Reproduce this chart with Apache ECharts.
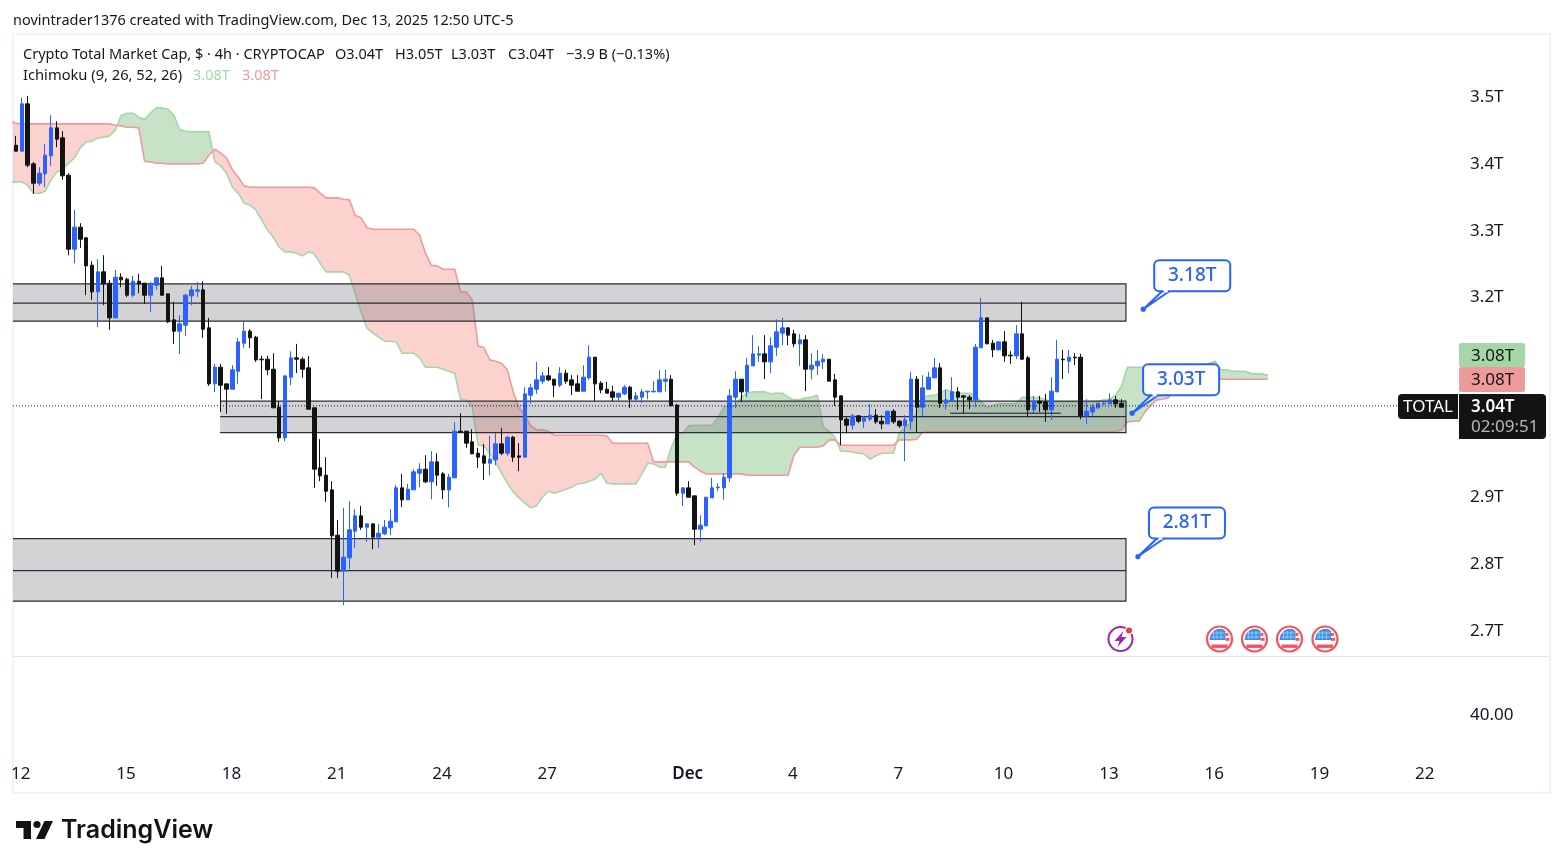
<!DOCTYPE html>
<html>
<head>
<meta charset="utf-8">
<title>TOTAL 4h</title>
<script src="https://cdn.jsdelivr.net/npm/echarts@6/dist/echarts.min.js"></script>
<style>
  html, body { margin: 0; padding: 0; background: #fff; }
  #chart { width: 1563px; height: 868px; }
</style>
</head>
<body>
<div id="chart"></div>
<script>
// 4h bars in trillions: open, close, low, high
const candles = [
  [3.427,3.418,3.418,3.441],[3.418,3.489,3.418,3.498],[3.489,3.397,3.394,3.501],[3.399,3.370,3.354,3.402],
  [3.370,3.385,3.366,3.394],[3.384,3.412,3.364,3.429],[3.411,3.453,3.396,3.472],[3.453,3.436,3.424,3.463],
  [3.438,3.381,3.375,3.448],[3.382,3.271,3.262,3.385],[3.271,3.304,3.250,3.330],[3.304,3.286,3.273,3.310],
  [3.288,3.246,3.202,3.289],[3.247,3.207,3.195,3.253],[3.207,3.237,3.154,3.256],[3.237,3.219,3.187,3.262],
  [3.220,3.168,3.150,3.225],[3.168,3.229,3.168,3.240],[3.229,3.225,3.214,3.235],[3.226,3.202,3.199,3.228],
  [3.202,3.223,3.199,3.231],[3.223,3.219,3.205,3.234],[3.220,3.202,3.189,3.220],[3.202,3.219,3.177,3.222],
  [3.217,3.228,3.210,3.229],[3.228,3.202,3.201,3.246],[3.204,3.162,3.160,3.204],[3.165,3.148,3.129,3.192],
  [3.148,3.159,3.114,3.172],[3.157,3.202,3.141,3.204],[3.201,3.210,3.187,3.216],[3.208,3.210,3.199,3.222],
  [3.210,3.151,3.138,3.223],[3.153,3.069,3.066,3.168],[3.069,3.094,3.057,3.099],[3.094,3.067,3.027,3.099],
  [3.069,3.061,3.024,3.069],[3.061,3.090,3.061,3.097],[3.088,3.132,3.069,3.138],[3.130,3.148,3.123,3.165],
  [3.148,3.138,3.123,3.151],[3.139,3.105,3.102,3.141],[3.106,3.105,3.046,3.111],[3.106,3.090,3.082,3.111],
  [3.091,3.033,3.033,3.115],[3.034,2.988,2.982,3.043],[2.988,3.081,2.983,3.081],[3.079,3.108,3.067,3.118],
  [3.108,3.106,3.085,3.129],[3.106,3.091,3.078,3.109],[3.093,3.031,3.031,3.111],[3.033,2.941,2.913,3.034],
  [2.943,2.931,2.923,2.986],[2.932,2.908,2.892,2.959],[2.910,2.841,2.778,2.923],[2.842,2.788,2.778,2.865],
  [2.788,2.809,2.737,2.883],[2.808,2.850,2.791,2.893],[2.848,2.871,2.823,2.881],[2.871,2.854,2.850,2.886],
  [2.854,2.859,2.832,2.859],[2.859,2.839,2.821,2.859],[2.839,2.845,2.823,2.859],[2.844,2.854,2.842,2.865],
  [2.853,2.863,2.842,2.881],[2.862,2.913,2.862,2.917],[2.913,2.895,2.884,2.934],[2.895,2.911,2.895,2.919],
  [2.910,2.937,2.910,2.941],[2.935,2.941,2.914,2.950],[2.941,2.922,2.920,2.962],[2.922,2.952,2.896,2.968],
  [2.952,2.932,2.916,2.965],[2.934,2.910,2.896,2.937],[2.910,2.929,2.884,2.934],[2.928,2.998,2.928,3.012],
  [2.998,2.997,2.997,3.025],[2.998,2.980,2.973,2.998],[2.982,2.964,2.964,3.001],[2.965,2.959,2.943,2.973],
  [2.961,2.950,2.925,2.979],[2.950,2.956,2.932,2.991],[2.955,2.979,2.947,2.995],[2.979,2.965,2.962,3.003],
  [2.965,2.989,2.961,2.991],[2.989,2.959,2.952,2.991],[2.961,2.959,2.938,2.980],[2.959,3.054,2.959,3.064],
  [3.052,3.063,3.039,3.069],[3.061,3.075,3.054,3.102],[3.073,3.081,3.069,3.087],[3.081,3.075,3.073,3.094],
  [3.076,3.067,3.049,3.076],[3.067,3.085,3.064,3.094],[3.085,3.073,3.069,3.090],[3.075,3.067,3.052,3.082],
  [3.069,3.058,3.058,3.082],[3.058,3.079,3.058,3.097],[3.078,3.109,3.075,3.127],[3.109,3.069,3.043,3.109],
  [3.070,3.060,3.055,3.073],[3.061,3.055,3.055,3.072],[3.057,3.049,3.043,3.066],[3.049,3.055,3.043,3.055],
  [3.054,3.064,3.052,3.067],[3.064,3.046,3.033,3.066],[3.046,3.051,3.042,3.057],[3.049,3.057,3.040,3.061],
  [3.057,3.058,3.046,3.058],[3.057,3.058,3.057,3.073],[3.057,3.075,3.057,3.090],[3.073,3.076,3.058,3.090],
  [3.076,3.036,3.036,3.082],[3.037,2.905,2.901,3.039],[2.905,2.913,2.886,2.914],[2.913,2.899,2.899,2.923],
  [2.901,2.851,2.827,2.901],[2.851,2.857,2.833,2.872],[2.856,2.899,2.856,2.899],[2.898,2.913,2.898,2.928],
  [2.913,2.914,2.908,2.920],[2.913,2.929,2.895,2.935],[2.928,3.051,2.922,3.061],[3.049,3.076,3.033,3.088],
  [3.076,3.057,3.042,3.076],[3.057,3.097,3.049,3.108],[3.096,3.114,3.096,3.142],[3.112,3.114,3.102,3.126],
  [3.114,3.102,3.076,3.142],[3.102,3.126,3.085,3.139],[3.124,3.147,3.111,3.166],[3.145,3.153,3.127,3.168],
  [3.153,3.142,3.127,3.154],[3.144,3.129,3.124,3.150],[3.129,3.135,3.096,3.144],[3.135,3.091,3.058,3.142],
  [3.091,3.097,3.076,3.115],[3.096,3.103,3.082,3.120],[3.102,3.106,3.091,3.114],[3.106,3.073,3.073,3.106],
  [3.075,3.049,3.036,3.084],[3.051,3.015,2.977,3.051],[3.016,3.007,2.995,3.019],[3.007,3.021,3.000,3.024],
  [3.021,3.013,3.010,3.022],[3.013,3.018,3.003,3.021],[3.016,3.022,3.013,3.039],[3.022,3.012,3.009,3.031],
  [3.013,3.009,3.001,3.022],[3.009,3.028,3.009,3.028],[3.028,3.012,3.009,3.031],[3.013,3.006,3.003,3.015],
  [3.006,3.015,2.953,3.022],[3.013,3.076,3.000,3.087],[3.076,3.034,2.997,3.081],[3.034,3.063,3.021,3.082],
  [3.061,3.079,3.061,3.087],[3.078,3.093,3.078,3.108],[3.093,3.040,3.033,3.100],[3.040,3.045,3.030,3.060],
  [3.043,3.057,3.043,3.079],[3.057,3.049,3.030,3.064],[3.051,3.049,3.025,3.052],[3.049,3.045,3.031,3.052],
  [3.045,3.124,3.034,3.129],[3.123,3.168,3.123,3.198],[3.168,3.129,3.129,3.168],[3.130,3.120,3.109,3.135],
  [3.120,3.132,3.120,3.132],[3.132,3.111,3.102,3.148],[3.112,3.111,3.099,3.118],[3.111,3.144,3.106,3.157],
  [3.144,3.106,3.105,3.192],[3.108,3.030,3.019,3.111],[3.030,3.043,3.025,3.051],[3.043,3.040,3.027,3.051],
  [3.042,3.030,3.012,3.054],[3.030,3.058,3.015,3.079],[3.057,3.106,3.057,3.135],[3.106,3.105,3.076,3.120],
  [3.103,3.109,3.085,3.120],[3.109,3.108,3.097,3.115],[3.109,3.021,3.016,3.114],[3.021,3.028,3.009,3.046],
  [3.027,3.034,3.021,3.039],[3.033,3.040,3.031,3.040],[3.039,3.040,3.037,3.043],[3.039,3.045,3.039,3.055],
  [3.045,3.039,3.033,3.051],[3.040,3.034,3.034,3.046]
];

// Ichimoku leading spans, one value per bar from bar -1 (runs 26 bars past the last candle)
const spanStart = -1;
const spanA = [
  3.372,
  3.372,3.372,3.367,3.355,3.355,3.358,3.375,3.387,3.391,3.400,
  3.408,3.423,3.432,3.433,3.438,3.439,3.441,3.450,3.472,3.475,
  3.475,3.469,3.466,3.475,3.483,3.483,3.481,3.472,3.450,3.448,
  3.447,3.447,3.447,3.447,3.402,3.396,3.385,3.364,3.355,3.340,
  3.337,3.330,3.315,3.300,3.289,3.274,3.267,3.267,3.265,3.261,
  3.267,3.264,3.250,3.237,3.237,3.237,3.237,3.232,3.205,3.177,
  3.153,3.145,3.139,3.133,3.133,3.132,3.115,3.115,3.115,3.108,
  3.094,3.094,3.094,3.091,3.088,3.085,3.046,3.045,3.034,2.977,
  2.976,2.965,2.952,2.935,2.920,2.907,2.898,2.890,2.883,2.886,
  2.899,2.908,2.905,2.908,2.911,2.914,2.919,2.920,2.923,2.926,
  2.935,2.920,2.919,2.919,2.919,2.919,2.919,2.934,2.950,2.949,
  2.944,2.944,2.973,2.992,2.995,3.006,3.007,3.007,3.007,3.007,
  3.018,3.034,3.036,3.036,3.049,3.055,3.057,3.057,3.057,3.054,
  3.055,3.055,3.049,3.045,3.045,3.048,3.049,3.052,3.004,2.998,
  2.989,2.968,2.968,2.967,2.965,2.964,2.956,2.961,2.965,2.965,
  2.965,2.995,3.004,3.010,3.025,3.048,3.051,3.052,3.055,3.060,
  3.057,3.055,3.055,3.055,3.052,3.042,3.033,3.036,3.039,3.039,
  3.039,3.040,3.049,3.049,3.049,3.048,3.045,3.043,3.042,3.042,
  3.042,3.042,3.042,3.042,3.042,3.043,3.045,3.046,3.052,3.066,
  3.094,3.094,3.094,3.094,3.094,3.096,3.096,3.096,3.096,3.096,
  3.096,3.096,3.096,3.097,3.100,3.103,3.090,3.090,3.088,3.088,
  3.088,3.085,3.084,3.084,3.082
];
const spanB = [
  3.463,
  3.460,3.459,3.459,3.459,3.459,3.459,3.459,3.459,3.459,3.459,
  3.459,3.459,3.459,3.459,3.459,3.459,3.459,3.457,3.456,3.454,
  3.454,3.453,3.403,3.402,3.400,3.400,3.399,3.399,3.399,3.399,
  3.399,3.399,3.400,3.412,3.421,3.415,3.408,3.390,3.379,3.366,
  3.364,3.364,3.364,3.364,3.364,3.364,3.364,3.364,3.364,3.364,
  3.364,3.363,3.355,3.348,3.348,3.348,3.346,3.345,3.322,3.318,
  3.303,3.301,3.301,3.301,3.301,3.301,3.301,3.301,3.301,3.292,
  3.265,3.247,3.246,3.241,3.241,3.241,3.207,3.207,3.195,3.126,
  3.123,3.105,3.103,3.100,3.090,3.057,3.033,3.022,3.006,3.000,
  3.000,2.998,2.992,2.992,2.992,2.992,2.992,2.992,2.992,2.992,
  2.992,2.991,2.980,2.980,2.980,2.980,2.980,2.980,2.980,2.952,
  2.952,2.952,2.952,2.952,2.952,2.952,2.944,2.938,2.934,2.934,
  2.934,2.934,2.934,2.934,2.934,2.932,2.932,2.932,2.932,2.932,
  2.932,2.932,2.932,2.962,2.974,2.974,2.974,2.974,2.976,2.985,
  2.985,2.977,2.977,2.977,2.977,2.977,2.977,2.977,2.977,2.977,
  2.977,2.985,2.985,2.985,2.986,2.997,2.997,2.997,2.997,2.997,
  2.997,2.997,2.997,2.997,2.997,2.997,2.997,2.997,2.997,2.997,
  2.997,2.997,2.997,2.997,2.997,2.997,2.997,2.997,2.997,2.997,
  2.997,2.997,2.997,2.997,2.997,2.997,2.997,2.997,2.997,3.000,
  3.012,3.013,3.013,3.027,3.037,3.045,3.046,3.048,3.063,3.076,
  3.076,3.076,3.076,3.076,3.076,3.076,3.076,3.076,3.076,3.076,
  3.076,3.076,3.076,3.076,3.076
];

// Drawn zones (bar index range, then top / middle / bottom price)
const zoneFrom = [-0.5, 34.9, -0.5];
const zoneTo = [189.75, 189.75, 189.75];
const zoneTop = [3.219, 3.043, 2.837];
const zoneMid = [3.190, 3.020, 2.789];
const zoneBottom = [3.163, 2.996, 2.743];

// Short black line drawn near the right end
const trendFrom = 159.7;
const trendTo = 178.6;
const trendPrice = 3.025;

// Callouts (anchor bar, anchor price, text)
const calloutBars = [192.7, 190.8, 191.8];
const calloutPrices = [3.181, 3.025, 2.810];
const calloutTexts = ['3.18T', '3.03T', '2.81T'];

const lastPrice = 3.036;
const priceLineEnd = 236.3;

// Axes
const barCount = 246;
const timeTickBars = [1, 19, 37, 55, 73, 91, 115, 133, 151, 169, 187, 205, 223, 241];
const timeTickLabels = ['12', '15', '18', '21', '24', '27', 'Dec', '4', '7', '10', '13', '16', '19', '22'];
const priceTicks = [2.7, 2.8, 2.9, 3.2, 3.3, 3.4, 3.5];
const indicatorTicks = [40];

const FONT = '"Noto Sans", sans-serif';
const INK = '#131722';
const BLUE = '#2962ff';
const BLACK = '#131313';

const categories = [];
for (let i = 0; i < barCount; i++) {
  const at = timeTickBars.indexOf(i);
  categories.push(at >= 0 ? timeTickLabels[at] : '');
}

// split the cloud into polygons wherever the two spans cross
function buildCloudRuns() {
  const runs = [];
  let run = null;
  for (let i = 0; i < spanA.length; i++) {
    const up = spanA[i] >= spanB[i];
    const bar = i + spanStart;
    if (run && run.up !== up) {
      const d0 = spanA[i - 1] - spanB[i - 1];
      const d1 = spanA[i] - spanB[i];
      const t = d0 / (d0 - d1);
      const cross = [bar - 1 + t, spanA[i - 1] + (spanA[i] - spanA[i - 1]) * t];
      run.a.push(cross);
      run.b.push(cross);
      runs.push(run);
      run = { up: up, a: [cross], b: [cross] };
    }
    if (!run) run = { up: up, a: [], b: [] };
    run.a.push([bar, spanA[i]]);
    run.b.push([bar, spanB[i]]);
  }
  runs.push(run);
  return runs;
}
const cloudRuns = buildCloudRuns();

function spanLine(values, color) {
  return {
    type: 'line', xAxisIndex: 1, yAxisIndex: 0, z: 2, silent: true,
    showSymbol: false, symbol: 'none',
    lineStyle: { color: color, width: 1.6 },
    data: values.map(function (v, i) { return [i + spanStart, v]; })
  };
}

function renderCloud(params, api) {
  const run = cloudRuns[params.dataIndex];
  const pts = run.a.concat(run.b.slice().reverse()).map(function (p) { return api.coord(p); });
  return {
    type: 'polygon', shape: { points: pts },
    style: { fill: run.up ? 'rgba(67,160,71,0.3)' : 'rgba(244,67,54,0.24)' }
  };
}

function renderZone(params, api) {
  const i = params.dataIndex;
  const tl = api.coord([zoneFrom[i], zoneTop[i]]);
  const br = api.coord([zoneTo[i], zoneBottom[i]]);
  const my = api.coord([zoneFrom[i], zoneMid[i]])[1];
  const edge = { stroke: '#2a2e39', lineWidth: 1.2, fill: null };
  return {
    type: 'group',
    children: [
      { type: 'rect', shape: { x: tl[0], y: tl[1], width: br[0] - tl[0], height: br[1] - tl[1] },
        style: { fill: 'rgba(120,120,126,0.33)' } },
      { type: 'polyline', shape: { points: [[tl[0], tl[1]], [br[0], tl[1]], [br[0], br[1]], [tl[0], br[1]]] }, style: edge },
      { type: 'line', shape: { x1: tl[0], y1: my, x2: br[0], y2: my }, style: edge }
    ]
  };
}

function renderCallout(params, api) {
  const i = params.dataIndex;
  const p = api.coord([calloutBars[i], calloutPrices[i]]);
  const l = p[0] + 11, b = p[1] - 18, w = 76, h = 31;
  const edge = { stroke: BLUE, lineWidth: 2 };
  return {
    type: 'group',
    children: [
      { type: 'polygon', shape: { points: [p, [l + 8, b], [l + 15, b]] },
        style: Object.assign({ fill: '#fff' }, edge) },
      { type: 'rect', shape: { x: l, y: b - h, width: w, height: h, r: 5 },
        style: Object.assign({ fill: '#fff' }, edge) },
      { type: 'line', shape: { x1: l + 9.5, y1: b, x2: l + 13.5, y2: b },
        style: { stroke: '#fff', lineWidth: 2.5 } },
      { type: 'circle', shape: { cx: p[0], cy: p[1], r: 2.6 }, style: { fill: BLUE } },
      { type: 'text', x: l + w / 2, y: b - h / 2,
        style: { text: calloutTexts[i], fill: BLUE, fontFamily: FONT, fontSize: 19, fontWeight: 500,
                 align: 'center', verticalAlign: 'middle' } }
    ]
  };
}

// ---- page furniture ----
function txt(x, y, text, color, size, weight, align) {
  return {
    type: 'text', x: x, y: y, z: 20, silent: true,
    style: { text: text, fill: color, fontFamily: FONT, fontSize: size, fontWeight: weight || 400,
             verticalAlign: 'middle', align: align || 'left' }
  };
}
function box(x, y, w, h, color, r) {
  return { type: 'rect', z: 19, silent: true, shape: { x: x, y: y, width: w, height: h, r: r || 0 }, style: { fill: color } };
}

function flag(cx, cy) {
  const red = '#f7525f';
  const parts = [
    { type: 'circle', z: 15, silent: true, shape: { cx: 0, cy: 0, r: 12.5 }, style: { fill: '#fff', stroke: red, lineWidth: 2.2 } },
    { type: 'polygon', z: 16, silent: true, shape: { points: [[-10, 1], [-9, -4], [-6, -8], [-2, -10], [3, -10], [6, -8], [6, 1]] }, style: { fill: '#3d8fe8' } },
    { type: 'rect', z: 16, silent: true, shape: { x: 6, y: -6, width: 2.8, height: 3 }, style: { fill: red } },
    { type: 'rect', z: 16, silent: true, shape: { x: 6, y: -1, width: 4, height: 2.8 }, style: { fill: red } },
    { type: 'rect', z: 16, silent: true, shape: { x: -8, y: 5.5, width: 16, height: 3.4 }, style: { fill: red } }
  ];
  [-6, -2.5, 1.5].forEach(function (gx) {
    parts.push({ type: 'line', z: 17, silent: true, shape: { x1: gx, y1: -8, x2: gx, y2: 0 }, style: { stroke: '#a8d0f5', lineWidth: 0.8 } });
  });
  [-6, -2].forEach(function (gy) {
    parts.push({ type: 'line', z: 17, silent: true, shape: { x1: -8, y1: gy, x2: 5, y2: gy }, style: { stroke: '#a8d0f5', lineWidth: 0.8 } });
  });
  return { type: 'group', x: cx, y: cy, children: parts };
}

function eventIcon(cx, cy) {
  return {
    type: 'group', x: cx, y: cy, children: [
      { type: 'circle', z: 15, silent: true, shape: { cx: 0, cy: 0, r: 12 }, style: { fill: '#fff', stroke: '#9c27b0', lineWidth: 2 } },
      { type: 'polygon', z: 16, silent: true, shape: { points: [[3, -8], [-6, 2], [-1, 2], [-3, 8], [6, -2], [1, -2]] }, style: { fill: '#9c27b0' } },
      { type: 'circle', z: 16, silent: true, shape: { cx: 9, cy: -9, r: 4.5 }, style: { fill: '#fff' } },
      { type: 'circle', z: 17, silent: true, shape: { cx: 8.5, cy: -8.5, r: 3 }, style: { fill: '#f23645' } }
    ]
  };
}

const graphics = [
  { type: 'rect', z: 0, silent: true, shape: { x: 13, y: 34, width: 1537, height: 759 },
    style: { fill: null, stroke: '#f0f3fa', lineWidth: 2 } },
  { type: 'line', z: 1, silent: true, shape: { x1: 13, y1: 656.5, x2: 1549, y2: 656.5 },
    style: { stroke: '#e0e3eb', lineWidth: 1 } },
  txt(13, 20.5, 'novintrader1376 created with TradingView.com, Dec 13, 2025 12:50 UTC-5', INK, 14.5),
  txt(23, 54.5, 'Crypto Total Market Cap, $ · 4h · CRYPTOCAP', INK, 14.5),
  txt(335, 54.5, 'O3.04T', INK, 14.5),
  txt(395, 54.5, 'H3.05T', INK, 14.5),
  txt(451, 54.5, 'L3.03T', INK, 14.5),
  txt(508, 54.5, 'C3.04T', INK, 14.5),
  txt(566, 54.5, '−3.9 B (−0.13%)', INK, 14.5),
  txt(23, 75.5, 'Ichimoku (9, 26, 52, 26)', INK, 14.7),
  txt(193, 75.5, '3.08T', '#a5d6a7', 14.5),
  txt(242, 75.5, '3.08T', '#ef9a9a', 14.5),
  box(1459, 343, 66, 24, '#a5d6a7', 2),
  txt(1471, 356, '3.08T', BLACK, 17),
  box(1459, 367, 66, 25, '#ef9a9a', 2),
  txt(1471, 380, '3.08T', BLACK, 17),
  box(1398, 394, 60, 25, BLACK, [4, 0, 0, 4]),
  txt(1428, 407, 'TOTAL', '#fff', 17, 400, 'center'),
  box(1459, 394, 87, 45, BLACK, [0, 4, 4, 0]),
  txt(1471, 407, '3.04T', '#fff', 17, 600),
  txt(1471, 427.5, '02:09:51', '#b8b8b8', 17),
  eventIcon(1120.5, 639),
  flag(1219.5, 639), flag(1254.5, 639), flag(1289.5, 639), flag(1325, 639),
  // logo
  { type: 'polygon', z: 20, silent: true, shape: { points: [[16, 821], [31, 821], [31, 839], [23.5, 839], [23.5, 828], [16, 828]] }, style: { fill: BLACK } },
  { type: 'circle', z: 20, silent: true, shape: { cx: 37, cy: 824.5, r: 3.6 }, style: { fill: BLACK } },
  { type: 'polygon', z: 20, silent: true, shape: { points: [[44.5, 821], [53, 821], [44.5, 839], [36, 839]] }, style: { fill: BLACK } },
  { type: 'text', x: 61, y: 830.5, z: 20, silent: true,
    style: { text: 'TradingView', fill: BLACK, fontFamily: 'Inter, sans-serif', fontSize: 25, fontWeight: 600, verticalAlign: 'middle' } }
];

const richTick = { a: { padding: [2, 0, 0, 0], color: INK, fontFamily: FONT, fontSize: 17 } };

const chart = echarts.init(document.getElementById('chart'), null, { renderer: 'canvas' });
chart.setOption({
  animation: false,
  backgroundColor: '#fff',
  grid: [
    { left: 13, top: 34, width: 1439.1, height: 622 },
    { left: 13, top: 656, width: 1439.1, height: 100 }
  ],
  xAxis: [
    { type: 'category', gridIndex: 0, data: categories, show: false },
    { type: 'value', gridIndex: 0, min: -0.5, max: barCount - 0.5, show: false },
    { type: 'category', gridIndex: 1, data: categories,
      axisLine: { show: false }, axisTick: { show: false },
      axisLabel: {
        interval: function (index, value) { return value !== ''; },
        margin: 10, color: INK, fontFamily: FONT, fontSize: 17, padding: [0, 2, 0, 0],
        formatter: function (value) { return value === 'Dec' ? '{b|Dec}' : value; },
        rich: { b: { fontWeight: 600, fontFamily: FONT, fontSize: 17, color: INK } }
      }
    }
  ],
  yAxis: [
    { type: 'value', gridIndex: 0, position: 'right', min: 2.6608, max: 3.5938, scale: true,
      axisLine: { show: false }, axisTick: { show: false }, splitLine: { show: false },
      axisLabel: {
        customValues: priceTicks, margin: 18, rich: richTick,
        formatter: function (v) { return '{a|' + v.toFixed(1) + 'T}'; }
      }
    },
    { type: 'value', gridIndex: 1, position: 'right', min: 0, max: 95,
      axisLine: { show: false }, axisTick: { show: false }, splitLine: { show: false },
      axisLabel: {
        customValues: indicatorTicks, margin: 18, rich: richTick,
        formatter: function (v) { return '{a|' + v.toFixed(2) + '}'; }
      }
    }
  ],
  graphic: graphics,
  series: [
    { type: 'custom', xAxisIndex: 1, yAxisIndex: 0, z: 1, silent: true, clip: true, renderItem: renderCloud,
      data: cloudRuns.map(function (r, i) { return [i]; }) },
    spanLine(spanA, '#a5d6a7'),
    spanLine(spanB, '#ef9a9a'),
    { type: 'custom', xAxisIndex: 1, yAxisIndex: 0, z: 3, silent: true, renderItem: renderZone,
      data: zoneFrom.map(function (v, i) { return [v, zoneTop[i]]; }) },
    { type: 'candlestick', xAxisIndex: 0, yAxisIndex: 0, z: 4, silent: true, barWidth: 4,
      itemStyle: { color: BLUE, color0: BLACK, borderColor: BLUE, borderColor0: BLACK, borderWidth: 1 },
      data: candles },
    { type: 'line', xAxisIndex: 1, yAxisIndex: 0, z: 5, silent: true, showSymbol: false, symbol: 'none',
      lineStyle: { color: '#131722', width: 1 },
      data: [[trendFrom, trendPrice], [trendTo, trendPrice]] },
    { type: 'line', xAxisIndex: 1, yAxisIndex: 0, z: 5, silent: true, showSymbol: false, symbol: 'none',
      lineStyle: { color: '#131722', width: 1, type: [1, 2] },
      data: [[-0.5, lastPrice], [priceLineEnd, lastPrice]] },
    { type: 'custom', xAxisIndex: 1, yAxisIndex: 0, z: 6, silent: true, clip: false, renderItem: renderCallout,
      data: calloutBars.map(function (v, i) { return [v, calloutPrices[i]]; }) }
  ]
});
</script>
</body>
</html>
